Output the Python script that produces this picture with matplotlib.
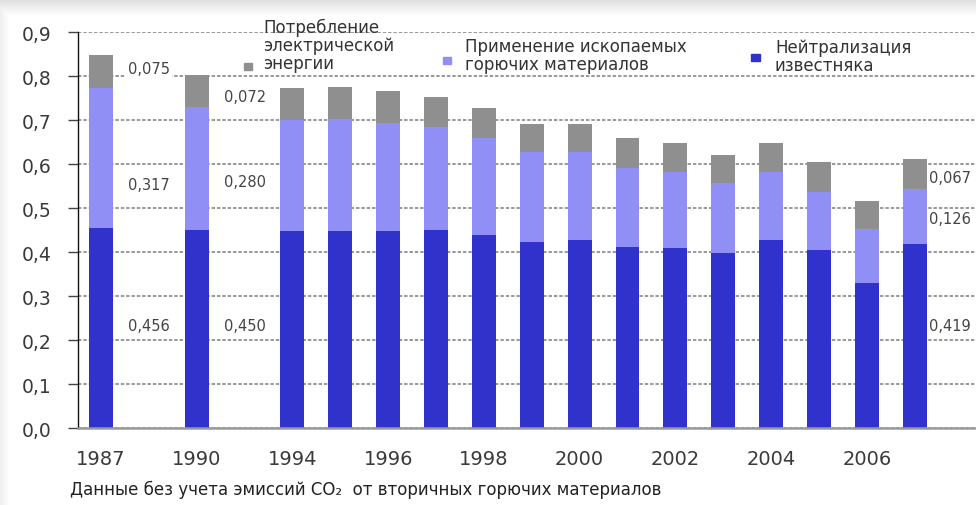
import numpy as np
import matplotlib
matplotlib.use("Agg")
import matplotlib.pyplot as plt
from matplotlib.patches import Rectangle

plt.rcParams['font.family'] = ['DejaVu Sans']

# ---- data -------------------------------------------------------------
years = [1987, 1990, 1994, 1995, 1996, 1997, 1998, 1999, 2000,
         2001, 2002, 2003, 2004, 2005, 2006, 2007]
limestone = [0.456, 0.450, 0.448, 0.448, 0.448, 0.451, 0.440, 0.423, 0.429,
             0.413, 0.410, 0.398, 0.427, 0.405, 0.330, 0.419]
fossil = [0.317, 0.280, 0.253, 0.255, 0.246, 0.233, 0.220, 0.204, 0.198,
          0.179, 0.173, 0.159, 0.156, 0.133, 0.123, 0.126]
electricity = [0.075, 0.072, 0.072, 0.072, 0.073, 0.068, 0.069, 0.064, 0.065,
               0.068, 0.065, 0.065, 0.065, 0.068, 0.064, 0.067]

series_names = ["Потребление\nэлектрической\nэнергии",
                "Применение ископаемых\nгорючих материалов",
                "Нейтрализация\nизвестняка"]
tick_years = [1987, 1990, 1994, 1996, 1998, 2000, 2002, 2004, 2006]
labelled_years = [1987, 1990, 2007]
footnote = "Данные без учета эмиссий CO₂  от вторичных горючих материалов"

# ---- layout -----------------------------------------------------------
W, H = 976, 506
fig = plt.figure(figsize=(W / 100, H / 100), dpi=100)

# soft frame shading along the top and left edges
bg = np.ones((H, W, 3))
top = np.clip(np.arange(H) / 16.0, 0, 1)
left = np.clip(np.arange(W) / 9.0, 0, 1)
shade = np.minimum(0.87 + 0.13 * top[:, None], 0.94 + 0.06 * left[None, :])
bg *= shade[:, :, None]
fig.figimage(bg, xo=0, yo=0, origin='upper', zorder=-5)

ax = fig.add_axes([78 / W, 76.7 / H, 1 - 78 / W, 396 / H])
ax.patch.set_visible(False)

# bar slots: 1987 and 1990 are each followed by an empty slot
pos = []
p = 0
prev = None
for y in years:
    if prev is not None:
        p += 2 if y in (1990, 1994) else 1
    pos.append(p)
    prev = y
pos = np.array(pos, dtype=float)

c_lime = '#3131CB'
c_fossil = '#8F8FF6'
c_elec = '#8F8F8F'
bw = 0.5

lime = np.array(limestone)
foss = np.array(fossil)
elec = np.array(electricity)

b1 = ax.bar(pos, lime, bw, color=c_lime, zorder=3)
b2 = ax.bar(pos, foss, bw, bottom=lime, color=c_fossil, zorder=3)
b3 = ax.bar(pos, elec, bw, bottom=lime + foss, color=c_elec, zorder=3)

ax.set_xlim(-0.48, 18.28)
ax.set_ylim(0, 0.9)

# y axis
yt = np.round(np.arange(0, 0.91, 0.1), 1)
ax.set_yticks(yt)
ax.set_yticklabels([f"{v:.1f}".replace('.', ',') for v in yt])
ax.tick_params(axis='y', direction='out', length=7, width=1, color='#444444',
               labelsize=13.5, labelcolor='#3a3a3a', pad=12)
ax.yaxis.grid(True, linestyle=(0, (2.2, 1.3)), color='#7c7c7c', linewidth=1.1,
              zorder=1)
ax.set_axisbelow(True)

# x axis
ax.set_xticks([pos[years.index(y)] for y in tick_years])
ax.set_xticklabels([str(y) for y in tick_years])
ax.tick_params(axis='x', length=0, labelsize=14, labelcolor='#3a3a3a', pad=15)

for s in ('top', 'right'):
    ax.spines[s].set_visible(False)
ax.spines['left'].set_color('#111111')
ax.spines['left'].set_linewidth(1.0)
ax.spines['bottom'].set_color('#9a9a9a')
ax.spines['bottom'].set_linewidth(1.8)
ax.spines['left'].set_zorder(4)
ax.spines['bottom'].set_zorder(4)

# value labels placed in the gap to the right of selected bars
label_heights = {1987: (0.233, 0.555, 0.817),
                 1990: (0.233, 0.560, 0.754),
                 2007: (0.233, 0.476, 0.571)}
label_shift = {1987: 1.0, 1990: 1.0, 2007: 0.74}
for y in labelled_years:
    i = years.index(y)
    for v, h in zip((lime[i], foss[i], elec[i]), label_heights[y]):
        ax.text(pos[i] + label_shift[y], h, f"{v:.3f}".replace('.', ','),
                ha='center', va='center', fontsize=10.5, color='#444444',
                zorder=5, bbox=dict(fc='white', ec='none', pad=1.5))

# legend: swatch beside each multi-line label
handles = [b3, b2, b1]
swatch = [(244, 64, 8, 7), (443, 58, 8, 7), (751, 55, 9, 7)]
text_xy = [(263, 19), (465, 38), (775, 39)]
for h, name, (sx, sy, sw, sh), (tx, ty) in zip(handles, series_names, swatch, text_xy):
    fig.patches.append(Rectangle((sx / W, 1 - (sy + sh) / H), sw / W, sh / H,
                                 transform=fig.transFigure,
                                 color=h.patches[0].get_facecolor(), zorder=6))
    fig.text(tx / W, 1 - ty / H, name, ha='left', va='top', fontsize=12,
             color='#333333', linespacing=1.0, zorder=6)

fig.text(70 / W, 1 - 490 / H, footnote, ha='left', va='center', fontsize=12,
         color='#222222')

fig.savefig('out.png', dpi=100)
